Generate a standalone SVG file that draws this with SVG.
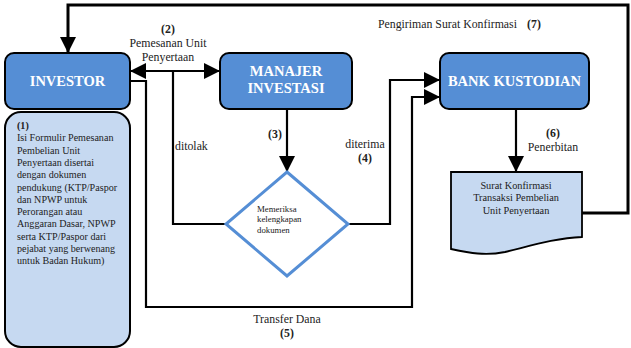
<svg xmlns="http://www.w3.org/2000/svg" width="631" height="348" viewBox="0 0 631 348">
<style>
text{font-family:"Liberation Serif","Times New Roman",serif;fill:#222}
.title{font-weight:bold;fill:#fff;font-size:14.5px;text-anchor:middle}
.box{fill:#558ed5;stroke:#000;stroke-width:2}
.lbl{font-size:11.8px}
.b{font-weight:bold}
.line{fill:none;stroke:#000;stroke-width:2.2}
.note{font-size:10.1px}
.doc{font-size:10.3px;text-anchor:middle}
.dia{font-size:8.8px}
</style>
<defs>
<marker id="ah" markerUnits="userSpaceOnUse" markerWidth="16" markerHeight="16" refX="15" refY="8" orient="auto-start-reverse" viewBox="0 0 16 16">
<path d="M0,0 L16,8 L0,16 Z" fill="#000"/>
</marker>
</defs>
<g id="connectors">
<path class="line" style="stroke-width:3" d="M582,213 H628 V5 H68 V52" marker-end="url(#ah)"/>
<path class="line" d="M131,71 H219" marker-start="url(#ah)" marker-end="url(#ah)"/>
<path class="line" d="M173,71 V224 H226"/>
<path class="line" d="M287,109 V171" marker-end="url(#ah)"/>
<path class="line" d="M348,224 H390 V80 H439" marker-end="url(#ah)"/>
<path class="line" d="M130,81 H146 V307 H412 V97 H439" marker-end="url(#ah)"/>
<path class="line" d="M516,109 V171" marker-end="url(#ah)"/>
</g>
<g id="labels">
<text class="lbl" x="378" y="28">Pengiriman Surat Konfirmasi</text>
<text class="lbl b" x="534" y="28" text-anchor="middle">(7)</text>
<text class="lbl b" x="168" y="33" text-anchor="middle">(2)</text>
<text class="lbl" x="168" y="47" text-anchor="middle">Pemesanan Unit</text>
<text class="lbl" x="168" y="61" text-anchor="middle">Penyertaan</text>
<text class="lbl" x="175" y="150">ditolak</text>
<text class="lbl b" x="275" y="138" text-anchor="middle">(3)</text>
<text class="lbl" x="365" y="148" text-anchor="middle">diterima</text>
<text class="lbl b" x="365" y="162" text-anchor="middle">(4)</text>
<text class="lbl b" x="553" y="137" text-anchor="middle">(6)</text>
<text class="lbl" x="553" y="151" text-anchor="middle">Penerbitan</text>
<text class="lbl" x="287" y="323" text-anchor="middle">Transfer Dana</text>
<text class="lbl b" x="287" y="337" text-anchor="middle">(5)</text>
</g>
<g id="investor">
<rect class="box" x="5" y="53" width="125" height="56" rx="9"/>
<text class="title" x="67.5" y="86">INVESTOR</text>
</g>
<g id="investor-note">
<rect x="5" y="112" width="125" height="235" rx="16" fill="#c6d9f1" stroke="#000" stroke-width="2"/>
<text class="note" x="17" y="129"><tspan class="b">(1)</tspan>
<tspan x="17" dy="12.3">Isi Formulir Pemesanan</tspan>
<tspan x="17" dy="12.3">Pembelian Unit</tspan>
<tspan x="17" dy="12.3">Penyertaan disertai</tspan>
<tspan x="17" dy="12.3">dengan dokumen</tspan>
<tspan x="17" dy="12.3">pendukung (KTP/Paspor</tspan>
<tspan x="17" dy="12.3">dan NPWP untuk</tspan>
<tspan x="17" dy="12.3">Perorangan atau</tspan>
<tspan x="17" dy="12.3">Anggaran Dasar, NPWP</tspan>
<tspan x="17" dy="12.3">serta KTP/Paspor dari</tspan>
<tspan x="17" dy="12.3">pejabat yang berwenang</tspan>
<tspan x="17" dy="12.3">untuk Badan Hukum)</tspan></text>
</g>
<g id="manajer">
<rect class="box" x="220" y="53" width="132" height="56" rx="9"/>
<text class="title" x="286" y="76">MANAJER</text>
<text class="title" x="286" y="93">INVESTASI</text>
</g>
<g id="bank">
<rect class="box" x="440" y="53" width="149" height="56" rx="9"/>
<text class="title" x="514.5" y="86">BANK KUSTODIAN</text>
</g>
<g id="decision">
<path d="M287,172 L348,224 L287,276 L226,224 Z" fill="#fff" stroke="#558ed5" stroke-width="3"/>
<text class="dia" x="257" y="212">Memeriksa</text>
<text class="dia" x="257" y="222">kelengkapan</text>
<text class="dia" x="257" y="233">dokumen</text>
</g>
<g id="document">
<path d="M451,172 H582 V237 C555,238 530,246 505,252 C485,256 470,253 451,249 Z" fill="#c6d9f1" stroke="#000" stroke-width="1.8"/>
<text class="doc" x="516" y="189">Surat Konfirmasi</text>
<text class="doc" x="516" y="201">Transaksi Pembelian</text>
<text class="doc" x="516" y="214">Unit Penyertaan</text>
</g>
</svg>
